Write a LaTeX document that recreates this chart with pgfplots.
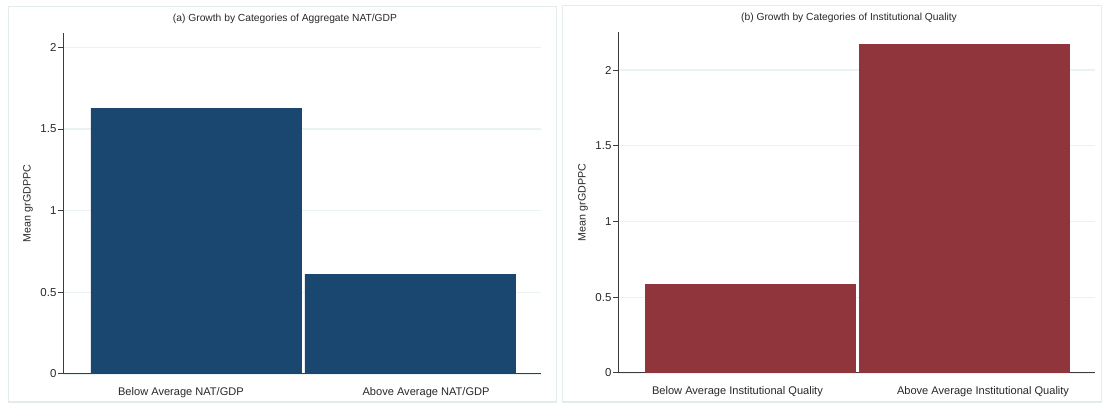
\documentclass[border=0pt]{standalone}
\usepackage{fontspec}
\setmainfont{Liberation Sans}
\usepackage{pgfplots}
\pgfplotsset{compat=1.18}

\definecolor{stnavy}{RGB}{26,71,111}
\definecolor{stmaroon}{RGB}{144,53,59}
\definecolor{stgrid}{RGB}{234,242,243}
\definecolor{stframe}{RGB}{228,235,237}
\definecolor{axisgray}{RGB}{60,60,60}
\definecolor{labelgray}{RGB}{40,40,40}

\pgfplotsset{
  panel/.style={
    scale only axis,
    width=358.5pt, height=255.75pt,
    ymin=0,
    ybar, bar width=157.5pt,
    axis x line*=bottom, axis y line*=left,
    axis line style={axisgray, line width=0.75pt},
    ytick={0,0.5,1,1.5,2},
    tick align=outside,
    major tick length=3.75pt,
    tick style={axisgray, line width=0.75pt},
    major x tick style={draw=none},
    ymajorgrids,
    grid style={stgrid, line width=1.1pt},
    /pgf/number format/assume math mode=true,
    yticklabel style={font=\fontsize{8.6pt}{10pt}\selectfont, text=labelgray, inner sep=1pt},
    xticklabel style={font=\fontsize{8.3pt}{10pt}\selectfont, text=labelgray, yshift=-2.5pt},
    every axis y label/.style={at={(axis description cs:-0.0732,0.5)}, anchor=center, rotate=90,
      font=\fontsize{8pt}{10pt}\selectfont, text=labelgray},
    title style={anchor=center, font=\fontsize{7.7pt}{9pt}\selectfont, text=labelgray},
    ylabel={Mean grGDPPC},
  }
}

\begin{document}
\begin{tikzpicture}
\useasboundingbox (0pt,0pt) rectangle (826.5pt,302.25pt);
% panel frames
\draw[stframe, line width=0.75pt] (6pt,0.75pt) rectangle (417pt,297pt);
\draw[stframe, line width=0.75pt] (421.5pt,0.75pt) rectangle (825.75pt,297.75pt);

% (a) growth by NAT/GDP category
\begin{axis}[panel,
  at={(47.25pt,21.75pt)}, anchor=south west,
  xmin=-0.621, xmax=1.612, ymax=2.088,
  xtick={-0.07,1.075},
  xticklabels={Below Average NAT/GDP, Above Average NAT/GDP},
  title={(a) Growth by Categories of Aggregate NAT/GDP},
  title style={at={(axis description cs:0.4644,1.0176)}},
]
\addplot[fill=stnavy, draw=stnavy] coordinates {(0,1.627) (1,0.612)};
\end{axis}

% (b) growth by institutional quality category
\begin{axis}[panel,
  at={(463.5pt,22.5pt)}, anchor=south west,
  xmin=-0.619, xmax=1.613, ymax=2.251,
  width=357.75pt,
  xtick={-0.06,1.089},
  xticklabels={Below Average Institutional Quality, Above Average Institutional Quality},
  title={(b) Growth by Categories of Institutional Quality},
  title style={at={(axis description cs:0.4843,1.0176)}},
]
\addplot[fill=stmaroon, draw=stmaroon] coordinates {(0,0.587) (1,2.167)};
\end{axis}
\end{tikzpicture}
\end{document}
